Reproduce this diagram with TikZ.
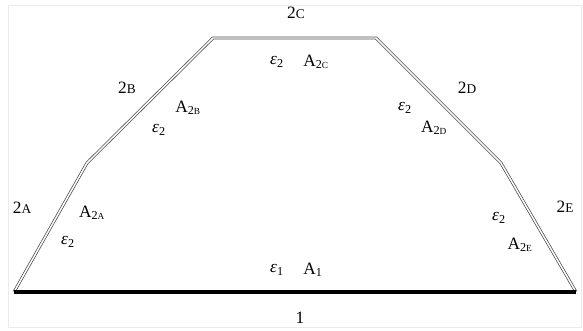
\documentclass[tikz,border=0pt]{standalone}
\usepackage{fontspec}
\setmainfont{Liberation Serif}
\usetikzlibrary{calc}
\newcommand{\smc}[1]{{\fontsize{10}{11}\selectfont #1}}
\newcommand{\Asub}[1]{A\textsubscript{2{\fontsize{7}{8}\selectfont #1}}}
\newcommand{\eps}[1]{{\itshape ε}\textsubscript{#1}}
\begin{document}
\begin{tikzpicture}[x=0.75pt,y=-0.75pt,font=\fontsize{13}{15}\selectfont,
  wall/.style={draw=black!70,line width=0.55pt,double=white,double distance=1.1pt,line join=round},
  base/.style={line width=2.4pt}]
  \useasboundingbox (0,0) rectangle (583,330);
  \draw[black!8] (8,5) rectangle (581,327);
  % corners of the enclosure
  \coordinate (p0) at (14,292);
  \coordinate (p1) at (87,163);
  \coordinate (p2) at (213,38);
  \coordinate (p3) at (376,38);
  \coordinate (p4) at (501,163);
  \coordinate (p5) at (576,292);
  \draw[wall] (p0)--(p1)--(p2)--(p3)--(p4)--(p5);
  \draw[base] (p0)--(p5);
  % surface labels
  \node (s1) at (300,318) {1};
  \node (sA) at (22,208) {2\smc{A}};
  \node (sB) at (127,88) {2\smc{B}};
  \node (sC) at (296,13) {2\smc{C}};
  \node (sD) at (467,88) {2\smc{D}};
  \node (sE) at (565,207) {2\smc{E}};
  % emissivities and areas
  \node (e1) at (277,270) {\eps{1}};
  \node (a1) at (313,270) {A\textsubscript{1}};
  \node (eA) at (68,242) {\eps{2}};
  \node (aA) at (92,213) {\Asub{A}};
  \node (eB) at (159,130) {\eps{2}};
  \node (aB) at (188,108) {\Asub{B}};
  \node (eC) at (277,62) {\eps{2}};
  \node (aC) at (316,62) {\Asub{C}};
  \node (eD) at (405,108) {\eps{2}};
  \node (aD) at (434,128) {\Asub{D}};
  \node (eE) at (499,218) {\eps{2}};
  \node (aE) at (520,245) {\Asub{E}};
\end{tikzpicture}
\end{document}
